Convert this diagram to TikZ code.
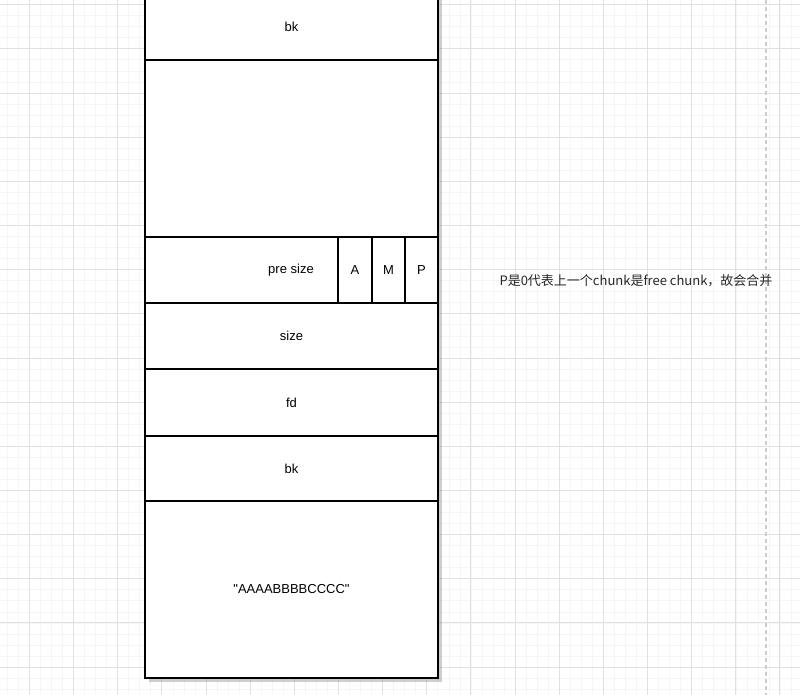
\documentclass[tikz,border=0pt]{standalone}
\usepackage{fontspec}
\setmainfont{Liberation Sans}
\newfontfamily\cjkFont{Noto Sans CJK SC}
\usetikzlibrary{positioning}
\definecolor{minorGridColor}{RGB}{245,245,245}
\definecolor{majorGridColor}{RGB}{225,225,225}
\definecolor{dashColor}{RGB}{205,205,205}
\tikzstyle{canvas} = [x = 1pt, y = -1pt]
\tikzstyle{rowStyle} = [draw=black, fill=white, line width=1.2pt, minimum width=293pt, inner sep=0pt, font=\fontsize{13}{15}\selectfont]
\tikzstyle{cellStyle} = [draw=black, fill=white, line width=1.2pt, minimum height=66pt, inner sep=0pt, font=\fontsize{13}{15}\selectfont]
\tikzstyle{plainText} = [inner sep=0pt, font=\fontsize{13}{15}\selectfont]
\tikzstyle{shadowStyle} = [fill=black!55, opacity=0.35]
\tikzstyle{noteText} = [font=\cjkFont\fontsize{13}{15}\selectfont, text=black!85]
\newcommand{\chunkRow}[4]{
  \pgfmathsetmacro{\rowHeight}{#3 - #2}
  \pgfmathsetmacro{\rowMid}{(#2 + #3) / 2}
  \node [rowStyle, minimum height=\rowHeight pt] (#1) at (291.5, \rowMid) {#4};
}
\newcommand{\flagCell}[4]{
  \pgfmathsetmacro{\cellWidth}{#3 - #2}
  \pgfmathsetmacro{\cellMid}{(#2 + #3) / 2}
  \node [cellStyle, minimum width=\cellWidth pt] (#1) at (\cellMid, 270) {#4};
}
\begin{document}
\begin{tikzpicture}[canvas]
  \useasboundingbox (0,0) rectangle (800,695);
  % background grid
  \foreach \gx in {7.3, 18.34, ..., 800} {
    \draw [minorGridColor, line width=0.8pt] (\gx, 0) -- (\gx, 695);
  }
  \foreach \gy in {4.7, 15.74, ..., 695} {
    \draw [minorGridColor, line width=0.8pt] (0, \gy) -- (800, \gy);
  }
  \foreach \gx in {29.3, 73.45, ..., 800} {
    \draw [majorGridColor, line width=0.8pt] (\gx, 0) -- (\gx, 695);
  }
  \foreach \gy in {4.7, 48.85, ..., 695} {
    \draw [majorGridColor, line width=0.8pt] (0, \gy) -- (800, \gy);
  }
  \draw [dashColor, line width=1.2pt, dash pattern=on 4pt off 3pt] (766, 0) -- (766, 695);

  % chunk column
  \fill [shadowStyle] (148.5, -10) rectangle (441.5, 681.5);
  \chunkRow{topBk}{-6}{60}{bk}
  \chunkRow{freeSpace}{60}{237}{}
  \chunkRow{preSize}{237}{303}{}
  \flagCell{flagA}{338}{372}{A}
  \flagCell{flagM}{372}{405}{M}
  \flagCell{flagP}{405}{438}{P}
  \node [plainText] (preSizeText) at (291, 270) {pre size};
  \chunkRow{sizeRow}{303}{369}{size}
  \chunkRow{fdRow}{369}{436}{fd}
  \chunkRow{bkRow}{436}{501}{bk}
  \chunkRow{dataRow}{501}{678}{\textquotedbl AAAABBBBCCCC\textquotedbl}

  % note
  \node [noteText] (note) at (636, 281) {P是0代表上一个chunk是free chunk，故会合并};
\end{tikzpicture}
\end{document}
